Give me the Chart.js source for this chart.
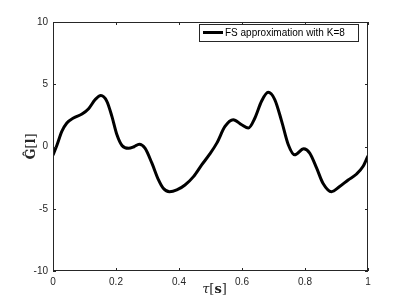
<!DOCTYPE html>
<html>
<head>
<meta charset="utf-8">
<script src="https://cdn.jsdelivr.net/npm/chart.js@4/dist/chart.umd.min.js"></script>
<style>
  html, body { margin: 0; padding: 0; background: #fff; }
  #wrap { width: 407px; height: 305px; }
</style>
</head>
<body>
<div id="wrap"><canvas id="c" width="407" height="305"></canvas></div>
<script>
const tau = [0, 0.013, 0.028, 0.044, 0.065, 0.092, 0.113, 0.134, 0.152, 0.171, 0.187, 0.203, 0.219, 0.24, 0.257, 0.274, 0.292, 0.314, 0.335, 0.35, 0.37, 0.393, 0.419, 0.446, 0.472, 0.498, 0.52, 0.546, 0.572, 0.599, 0.62, 0.641, 0.662, 0.683, 0.704, 0.726, 0.747, 0.767, 0.796, 0.815, 0.837, 0.857, 0.884, 0.91, 0.937, 0.963, 0.984, 1]
const gHat = [-0.7, 0.14, 1.21, 1.89, 2.29, 2.61, 3.04, 3.77, 4.09, 3.63, 2.42, 0.94, 0.08, -0.15, -0.02, 0.19, -0.13, -1.34, -2.69, -3.36, -3.63, -3.49, -3.09, -2.42, -1.48, -0.6, 0.27, 1.61, 2.15, 1.75, 1.48, 2.29, 3.63, 4.35, 3.77, 2.02, 0.14, -0.67, -0.19, -0.53, -1.74, -2.95, -3.63, -3.22, -2.69, -2.23, -1.61, -0.75]
const xTicks = [0, 0.2, 0.4, 0.6, 0.8, 1]
const yTicks = [-10, -5, 0, 5, 10]
const seriesLabel = 'FS approximation with K=8'

const axisColor = '#262626'
const tickFont = '10px "Liberation Sans", Arial, sans-serif'
const serif = '"DejaVu Serif", serif'

// draws pieces of text side by side, centred on cx
function drawRun(ctx, parts, cx, by) {
  const widths = parts.map(([txt, font]) => { ctx.font = font; return ctx.measureText(txt).width })
  let px = cx - widths.reduce((s, w) => s + w, 0) / 2
  parts.forEach(([txt, font], i) => {
    ctx.font = font
    ctx.fillText(txt, px, by)
    px += widths[i]
  })
}

// MATLAB-like box, inward ticks, tick labels, axis labels and legend
const matlabAxes = {
  id: 'matlabAxes',
  afterDatasetsDraw(chart) {
    const { ctx, chartArea: a, scales: { x, y } } = chart
    ctx.save()
    ctx.strokeStyle = axisColor
    ctx.lineWidth = 1
    ctx.strokeRect(a.left + 0.5, a.top + 0.5, a.right - a.left - 1, a.bottom - a.top - 1)

    ctx.fillStyle = axisColor
    ctx.font = tickFont
    ctx.beginPath()
    xTicks.forEach(v => {
      const px = Math.round(x.getPixelForValue(v)) + 0.5
      ctx.moveTo(px, a.bottom); ctx.lineTo(px, a.bottom - 3)
      ctx.moveTo(px, a.top); ctx.lineTo(px, a.top + 3)
    })
    yTicks.forEach(v => {
      const py = Math.round(y.getPixelForValue(v)) + 0.5
      ctx.moveTo(a.left, py); ctx.lineTo(a.left + 3, py)
      ctx.moveTo(a.right, py); ctx.lineTo(a.right - 3, py)
    })
    ctx.stroke()

    ctx.textAlign = 'center'
    ctx.textBaseline = 'top'
    xTicks.forEach(v => ctx.fillText(String(v), x.getPixelForValue(v), a.bottom + 6))
    ctx.textAlign = 'right'
    ctx.textBaseline = 'middle'
    yTicks.forEach(v => ctx.fillText(String(v), a.left - 5, y.getPixelForValue(v)))

    // axis labels
    ctx.textBaseline = 'alphabetic'
    ctx.textAlign = 'left'
    drawRun(ctx, [['τ', 'italic 13px ' + serif], ['[', '13px ' + serif], ['s', 'bold 13px ' + serif], [']', '13px ' + serif]],
      (a.left + a.right) / 2 + 4, 293)

    ctx.save()
    ctx.translate(35, (a.top + a.bottom) / 2)
    ctx.rotate(-Math.PI / 2)
    drawRun(ctx, [['Ĝ', 'bold 13px ' + serif], ['[', '13px ' + serif], ['l', 'bold 13px ' + serif], [']', '13px ' + serif]], 0, 0)
    ctx.restore()

    // legend
    const lx = 199, ly = 24, lw = 159, lh = 17
    ctx.fillStyle = '#fff'
    ctx.fillRect(lx, ly, lw, lh)
    ctx.strokeStyle = axisColor
    ctx.lineWidth = 1
    ctx.strokeRect(lx + 0.5, ly + 0.5, lw, lh)
    ctx.strokeStyle = '#000'
    ctx.lineWidth = 3
    ctx.beginPath()
    ctx.moveTo(lx + 4, ly + 8.5); ctx.lineTo(lx + 24, ly + 8.5)
    ctx.stroke()
    ctx.fillStyle = '#000'
    ctx.font = tickFont
    ctx.textAlign = 'left'
    ctx.textBaseline = 'middle'
    ctx.fillText(chart.data.datasets[0].label, lx + 26, ly + 9)
    ctx.restore()
  }
}

const chart = new Chart(document.getElementById('c'), {
  type: 'line',
  data: {
    datasets: [{
      label: seriesLabel,
      data: tau.map((t, i) => ({ x: t, y: gHat[i] })),
      borderColor: '#000',
      borderWidth: 3,
      pointRadius: 0,
      fill: false,
      cubicInterpolationMode: 'monotone'
    }]
  },
  options: {
    responsive: false,
    animation: false,
    layout: { padding: { left: 0, right: 39, top: 22, bottom: 0 } },
    plugins: { legend: { display: false }, tooltip: { enabled: false } },
    scales: {
      x: {
        type: 'linear', min: 0, max: 1,
        grid: { display: false }, border: { display: false },
        ticks: { display: false },
        afterFit: s => { s.height = 34 }
      },
      y: {
        min: -10, max: 10,
        grid: { display: false }, border: { display: false },
        ticks: { display: false },
        afterFit: s => { s.width = 53 }
      }
    }
  },
  plugins: [matlabAxes]
})
</script>
</body>
</html>
